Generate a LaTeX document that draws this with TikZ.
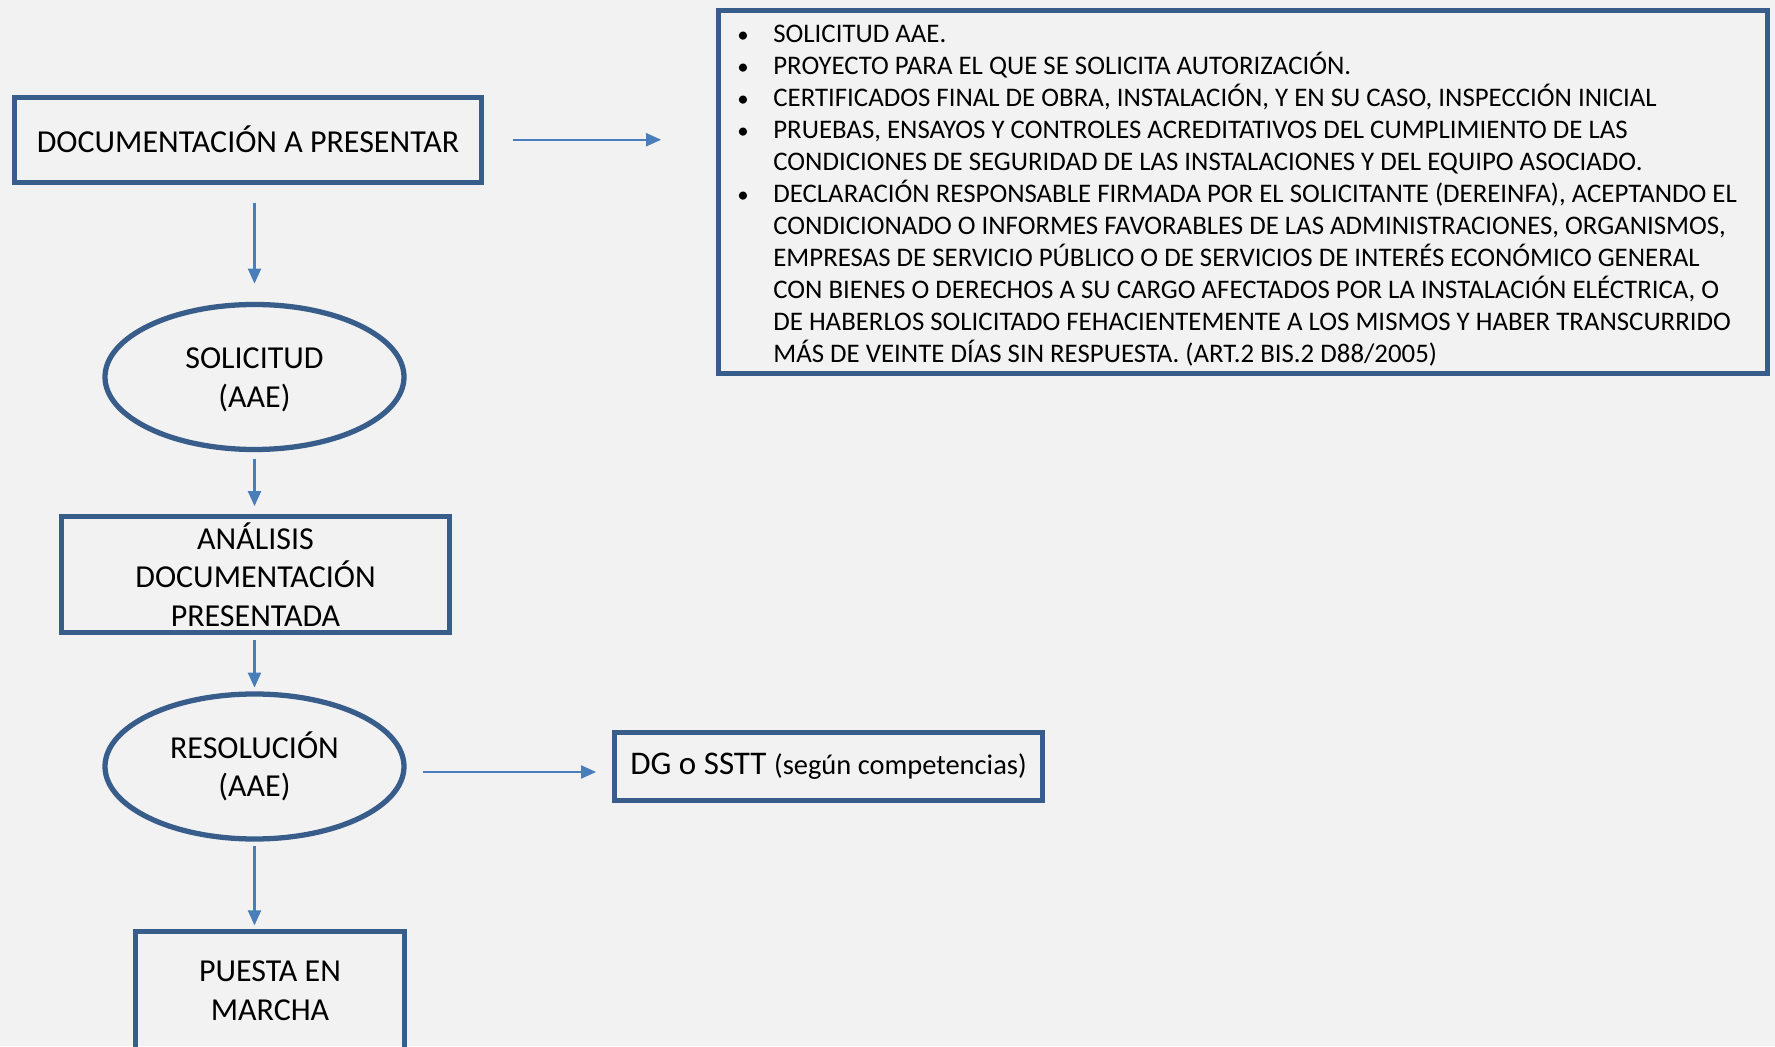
\documentclass[tikz,border=0pt]{standalone}
\usepackage{fontspec}
\setmainfont{Carlito}
\usetikzlibrary{arrows.meta,shapes.geometric}
\definecolor{boxblue}{HTML}{385D8A}
\definecolor{arrowblue}{HTML}{4A7EBB}
\definecolor{bgray}{HTML}{F2F2F2}
\newcommand{\itm}{\makebox[0.72cm][l]{\fontsize{13}{13}\selectfont\textbullet}}
\tikzset{
  box/.style={draw=boxblue,line width=3pt,inner sep=0pt,align=center,font=\fontsize{18.2}{22}\selectfont},
  oval/.style={box,ellipse,minimum width=5.98cm,minimum height=2.9cm},
  arr/.style={arrowblue,line width=1.2pt,-{Triangle[length=0.3cm,width=0.26cm]}},
}
\begin{document}
\begin{tikzpicture}
  \fill[bgray] (0,0) rectangle (35.5,20.92);
  \useasboundingbox (0,0) rectangle (35.5,20.92);

  \node[box,minimum width=9.33cm,minimum height=1.70cm] (doc) at (4.96,18.125) {DOCUMENTACIÓN A PRESENTAR};
  \node[oval] (sol) at (5.09,13.38) {SOLICITUD\vphantom{Ó}\\(AAE)};
  \node[box,minimum width=7.76cm,minimum height=2.33cm] (ana) at (5.11,9.43) {ANÁLISIS\\DOCUMENTACIÓN\\PRESENTADA};
  \node[oval] (res) at (5.09,5.59) {RESOLUCIÓN\\(AAE)};
  \node[box,minimum width=8.56cm,minimum height=1.36cm,font=\fontsize{18.8}{22}\selectfont] (dg) at (16.57,5.595) {DG o SSTT {\fontsize{16.2}{18}\selectfont(según competencias)}};
  \node[box,minimum width=5.37cm,minimum height=2.37cm] (pm) at (5.40,1.11) {PUESTA EN\\MARCHA};
  \node[box,minimum width=20.97cm,minimum height=7.27cm] (req) at (24.86,17.08) {};
  \node[anchor=west,inner sep=0pt,align=left,font=\fontsize{15.27}{18.2}\selectfont] (reqtxt) at (14.74,17.01) {%
    \itm SOLICITUD AAE.\\
    \itm PROYECTO PARA EL QUE SE SOLICITA AUTORIZACIÓN.\\
    \itm CERTIFICADOS FINAL DE OBRA, INSTALACIÓN, Y EN SU CASO, INSPECCIÓN INICIAL\\
    \itm PRUEBAS, ENSAYOS Y CONTROLES ACREDITATIVOS DEL CUMPLIMIENTO DE LAS\\
    \hspace*{0.72cm}CONDICIONES DE SEGURIDAD DE LAS INSTALACIONES Y DEL EQUIPO ASOCIADO.\\
    \itm DECLARACIÓN RESPONSABLE FIRMADA POR EL SOLICITANTE (DEREINFA), ACEPTANDO EL\\
    \hspace*{0.72cm}CONDICIONADO O INFORMES FAVORABLES DE LAS ADMINISTRACIONES, ORGANISMOS,\\
    \hspace*{0.72cm}EMPRESAS DE SERVICIO PÚBLICO O DE SERVICIOS DE INTERÉS ECONÓMICO GENERAL\\
    \hspace*{0.72cm}CON BIENES O DERECHOS A SU CARGO AFECTADOS POR LA INSTALACIÓN ELÉCTRICA, O\\
    \hspace*{0.72cm}DE HABERLOS SOLICITADO FEHACIENTEMENTE A LOS MISMOS Y HABER TRANSCURRIDO\\
    \hspace*{0.72cm}MÁS DE VEINTE DÍAS SIN RESPUESTA. (ART.2 BIS.2 D88/2005)};

  \draw[arr,shorten <=0.58cm,shorten >=1.1cm] (doc.east) -- (doc.east -| req.west);
  \draw[arr,shorten <=0.355cm,shorten >=0.365cm] (doc.south -| sol.north) -- (sol.north);
  \draw[arr,shorten <=0.13cm,shorten >=0.15cm] (sol.south) -- (sol.south |- ana.north);
  \draw[arr,shorten <=0.085cm,shorten >=0.075cm] (ana.south -| res.north) -- (res.north);
  \draw[arr,shorten <=0.325cm,shorten >=0.315cm] ([yshift=-0.11cm]res.east) -- ([yshift=-0.11cm]res.east -| dg.west);
  \draw[arr,shorten <=0.085cm,shorten >=0.065cm] (res.south) -- (res.south |- pm.north);
\end{tikzpicture}
\end{document}
